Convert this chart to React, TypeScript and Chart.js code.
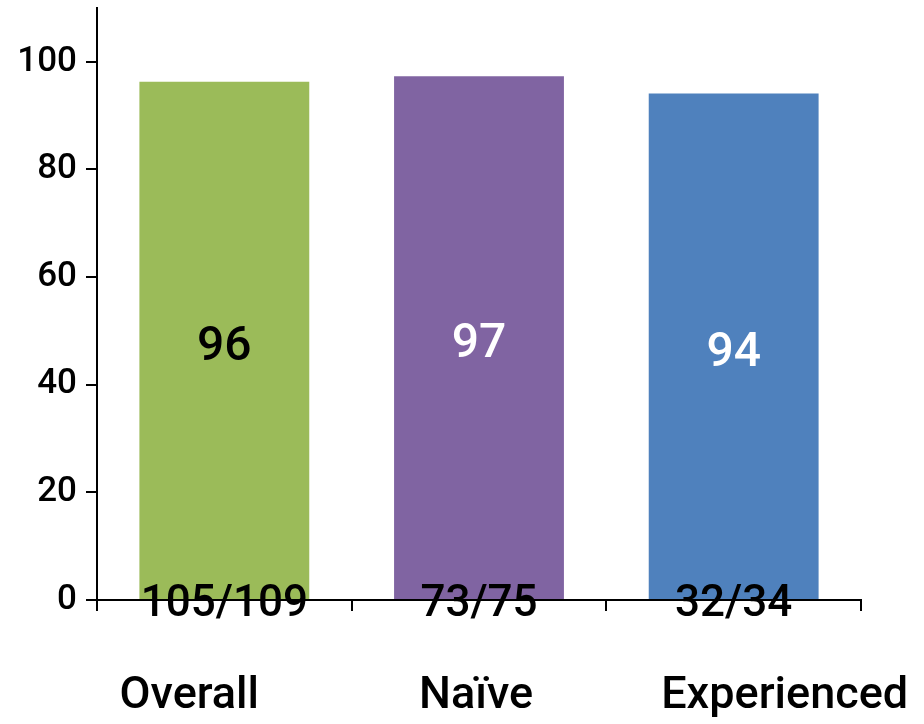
import React, { useEffect, useRef } from "react";
import { Chart, registerables } from "chart.js";

Chart.register(...registerables);

const categories = ["Overall", "Naïve", "Experienced"];
const percentValues = [96.3, 97.3, 94.1];
const valueLabels = ["96", "97", "94"];
const countLabels = ["105/109", "73/75", "32/34"];
const yTickValues = [0, 20, 40, 60, 80, 100];

const barColors = ["#9BBB59", "#8064A2", "#4F81BD"];
const valueLabelColors = ["#000000", "#ffffff", "#ffffff"];
const categoryLabelShift = [-35, -3, 51];
const FONT = "Roboto, 'DejaVu Sans', sans-serif";

const labelPlugin = {
  id: "barLabels",
  afterDraw(chart: any) {
    const { ctx, scales } = chart;
    const xs = scales.x;
    const ys = scales.y;
    const meta = chart.getDatasetMeta(0);
    ctx.save();
    meta.data.forEach((bar: any, i: number) => {
      const cx = bar.x;
      const midY = ys.getPixelForValue(percentValues[i] / 2) + 7;
      ctx.textAlign = "center";
      ctx.textBaseline = "middle";
      ctx.fillStyle = valueLabelColors[i];
      ctx.font = `500 48px ${FONT}`;
      ctx.fillText(valueLabels[i], cx, midY);

      ctx.fillStyle = "#000000";
      ctx.font = `500 44px ${FONT}`;
      ctx.fillText(countLabels[i], cx, ys.getPixelForValue(0) + 5);

      ctx.font = `500 45px ${FONT}`;
      ctx.fillText(categories[i], xs.getPixelForValue(i) + categoryLabelShift[i], ys.getPixelForValue(0) + 97);
    });
    ctx.restore();
  },
};

export default function App() {
  const canvasRef = useRef<HTMLCanvasElement | null>(null);

  useEffect(() => {
    if (!canvasRef.current) return;
    const chart = new Chart(canvasRef.current, {
      type: "bar",
      data: {
        labels: categories,
        datasets: [
          {
            data: percentValues,
            backgroundColor: barColors,
            borderWidth: 0,
            categoryPercentage: 1,
            barPercentage: 0.667,
          },
        ],
      },
      options: {
        animation: false,
        responsive: true,
        maintainAspectRatio: false,
        layout: { padding: { top: 8, right: 63, left: 0, bottom: 0 } },
        plugins: {
          legend: { display: false },
          tooltip: { enabled: false },
          title: { display: false },
        },
        scales: {
          x: {
            type: "category",
            offset: true,
            afterFit: (s: any) => {
              s.height = 124;
              s.paddingLeft = 0;
              s.paddingRight = 0;
            },
            grid: {
              display: true,
              drawOnChartArea: false,
              drawTicks: true,
              tickLength: 11,
              offset: true,
              color: "#000000",
              lineWidth: 2,
            },
            border: { display: true, color: "#000000", width: 2 },
            ticks: { display: false },
          },
          y: {
            min: 0,
            max: 110,
            afterFit: (s: any) => {
              s.width = 97;
              s.paddingTop = 0;
              s.paddingBottom = 0;
            },
            afterBuildTicks: (s: any) => {
              s.ticks = yTickValues.map((v) => ({ value: v }));
            },
            grid: {
              display: true,
              drawOnChartArea: false,
              drawTicks: true,
              tickLength: 11,
              color: "#000000",
              lineWidth: 2,
            },
            border: { display: true, color: "#000000", width: 2 },
            ticks: {
              padding: 9,
              color: "#000000",
              font: { family: FONT, size: 35, weight: 500 },
            },
          },
        },
      },
      plugins: [labelPlugin],
    });
    return () => chart.destroy();
  }, []);

  return (
    <div style={{ position: "fixed", left: 0, top: 0, width: 924, height: 724, background: "#ffffff" }}>
      <canvas ref={canvasRef} />
    </div>
  );
}
